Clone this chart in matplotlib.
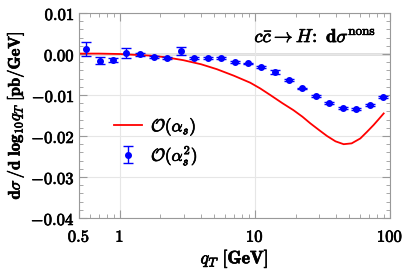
import matplotlib
matplotlib.use("Agg")
import matplotlib.pyplot as plt
import matplotlib.patheffects as pe
import numpy as np

matplotlib.rcParams.update({'mathtext.fontset': 'cm', 'font.size': 12})

# O(alpha_s) curve
qt_line = [0.5, 0.7, 1.0, 1.68, 2.2, 2.95, 4.0, 5.23, 7.0, 9.24, 10.96, 13.0,
           16.0, 19.3, 22.5, 25.7, 30.0, 34.2, 39.5, 45.4, 52.0, 60.3, 67.5, 75.7, 82.0, 89.8]
dsig_line = [0.0001, 0.0001, 0.0, -0.0004, -0.0008, -0.0015, -0.0025, -0.0037, -0.0053, -0.0070,
             -0.0084, -0.0100, -0.0120, -0.0137, -0.0153, -0.0169, -0.0186, -0.0200, -0.0213, -0.0220,
             -0.0218, -0.0206, -0.0190, -0.0173, -0.0160, -0.0145]

# O(alpha_s^2) points
qt_pts = [0.56, 0.71, 0.89, 1.12, 1.41, 1.78, 2.24, 2.82, 3.55, 4.47, 5.62, 7.08,
          8.91, 11.2, 14.1, 17.8, 22.4, 28.2, 35.5, 44.7, 56.2, 70.8, 89.1]
dsig_pts = [0.0012, -0.0016, -0.0015, 0.0003, -0.0001, -0.0007, -0.0009, 0.0008, -0.0009, -0.0010,
            -0.0009, -0.0020, -0.0023, -0.0032, -0.0044, -0.0064, -0.0084, -0.0103, -0.0120, -0.0132,
            -0.0134, -0.0125, -0.0105]
err_pts = [0.0017, 0.0009, 0.0005, 0.0012, 0.0004, 0.0002, 0.0002, 0.0010, 0.0002, 0.0002,
           0.0002, 0.0002, 0.0002, 0.0003, 0.0004, 0.0002, 0.0002, 0.0002, 0.0002, 0.0002,
           0.0002, 0.0002, 0.0002]

bold = [pe.withStroke(linewidth=0.5, foreground='black')]

fig = plt.figure(figsize=(4.07, 2.76), dpi=100)
ax = fig.add_axes([79/407, 1-218/276, (390-79)/407, (218-13)/276])

ax.grid(True, which='major', color='#e6e6e6', lw=0.8, zorder=0)
ax.axhline(0, color='black', lw=0.9, zorder=1)

ax.plot(qt_line, dsig_line, color='#ff0000', lw=1.3, label=r'$\mathcal{O}(\alpha_s)$', zorder=2)
ax.errorbar(qt_pts, dsig_pts, yerr=err_pts, fmt='o', color='#0000ff', ms=4, capsize=3.5,
            elinewidth=1, capthick=1, label=r'$\mathcal{O}(\alpha_s^2)$', zorder=3)

ax.set_xscale('log')
ax.set_xlim(0.5, 100)
ax.set_ylim(-0.04, 0.01)
ax.set_xticks([0.5, 1, 10, 100])
ax.set_xticklabels([r'$\mathbf{0.5}$', r'$\mathbf{1}$', r'$\mathbf{10}$', r'$\mathbf{100}$'])
yt = [0.01, 0.0, -0.01, -0.02, -0.03, -0.04]
ax.set_yticks(yt)
ax.set_yticklabels([(r'$-\mathbf{%.2f}$' if v < 0 else r'$\mathbf{%.2f}$') % abs(v) for v in yt])
ax.yaxis.set_minor_locator(matplotlib.ticker.MultipleLocator(0.002))

for s in ax.spines.values():
    s.set_color('#999999')
ax.tick_params(which='both', direction='in', top=True, right=True, color='#999999', labelsize=12)
ax.tick_params(which='major', length=6)
ax.tick_params(which='minor', length=3)
ax.tick_params(axis='x', which='major', pad=7)
ax.tick_params(axis='y', which='major', pad=3)
for t in ax.get_xticklabels() + ax.get_yticklabels():
    t.set_path_effects(bold)

ax.set_xlabel(r'$q_T\ [\mathbf{GeV}]$', fontsize=13, labelpad=2, path_effects=bold)
ax.set_ylabel(r'$\mathbf{d}\sigma\,/\mathbf{d}\ \mathbf{log}_{10}q_T\ [\mathbf{pb/GeV}]$',
              fontsize=12, labelpad=3, path_effects=bold)

ax.text(0.955, 0.885, r'$c\bar{c}\rightarrow H\!:\ \mathbf{d}\sigma^{\mathrm{nons}}$',
        transform=ax.transAxes, ha='right', va='center', fontsize=13.5, path_effects=bold)

leg = ax.legend(loc='upper left', bbox_to_anchor=(0.075, 0.56), frameon=False, fontsize=12.5,
                handlelength=1.6, handletextpad=0.5, labelspacing=0.3, borderpad=0.2)
for t in leg.get_texts():
    t.set_path_effects(bold)

fig.savefig('out.png', dpi=100)
